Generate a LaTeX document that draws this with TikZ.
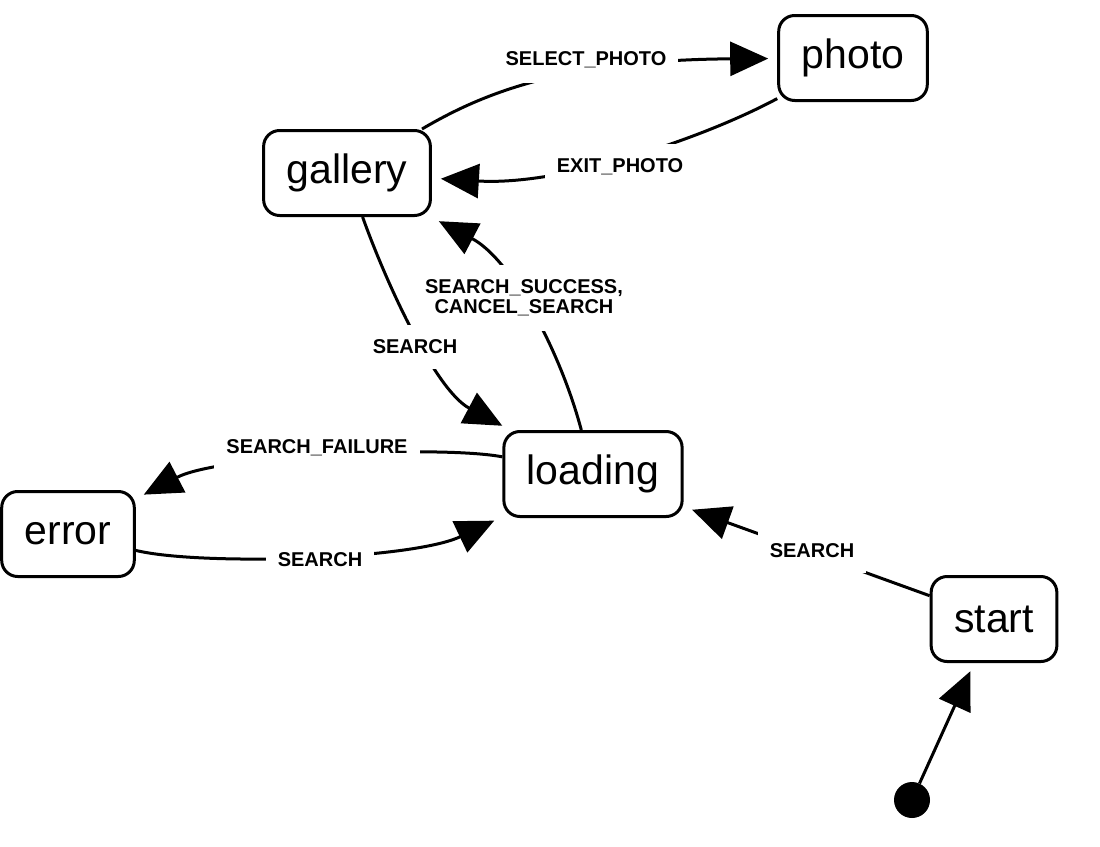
\documentclass[tikz,border=0pt]{standalone}
\usepackage{fontspec}
\setmainfont{Liberation Sans}
\usetikzlibrary{arrows.meta}
\begin{document}
\begin{tikzpicture}[x=1pt,y=-1pt,
  state/.style={draw, line width=3pt, rounded corners=16pt, inner xsep=23pt, minimum height=85pt, font=\fontsize{41}{49}\selectfont},
  lbl/.style={fill=white, inner xsep=12pt, inner ysep=15pt, font=\fontsize{20}{20}\selectfont\bfseries, align=center},
  edge/.style={line width=3pt, -{Triangle[length=38pt,width=34pt]}, shorten >=9pt}
]
\useasboundingbox (0,0) rectangle (1100,846);
\node[state] (photo) at (853,58) {photo};
\node[state] (gallery) at (347,173) {gallery};
\node[state] (loading) at (593,474) {loading};
\node[state] (error) at (68,534) {error};
\node[state] (start) at (994,619) {start};
\node[circle, fill, inner sep=0pt, minimum size=36pt] (init) at (912,800) {};

\draw[edge] (gallery) .. controls (480,95) and (560,60) .. (photo);
\draw[edge] (photo) .. controls (700,140) and (560,186) .. (gallery);
\draw[edge] (loading) .. controls (560,350) and (511,259) .. (gallery);
\draw[edge] (gallery) .. controls (385,280) and (435,390) .. (loading);
\draw[edge] (loading) .. controls (440,445) and (220,455) .. (error);
\draw[edge] (error) .. controls (200,566) and (411,560) .. (loading);
\draw[edge] (start) -- (loading);
\draw[edge] (init) -- (start);

\node[lbl] (l1) at (586,60) {SELECT\_PHOTO};
\node[lbl] (l2) at (620,167) {EXIT\_PHOTO};
\node[lbl] (l3) at (524,298) {SEARCH\_SUCCESS,\\CANCEL\_SEARCH};
\node[lbl] (l4) at (415,347) {SEARCH};
\node[lbl] (l5) at (317,448) {SEARCH\_FAILURE};
\node[lbl] (l6) at (320,560) {SEARCH};
\node[lbl] (l7) at (812,551) {SEARCH};
\end{tikzpicture}
\end{document}
